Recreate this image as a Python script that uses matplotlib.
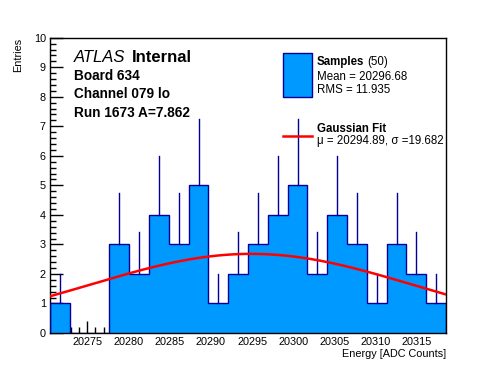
import numpy as np
import matplotlib
matplotlib.use("Agg")
import matplotlib.pyplot as plt
from matplotlib.ticker import MultipleLocator
from matplotlib.patches import Rectangle
from matplotlib.lines import Line2D

plt.rcParams['font.family'] = ['Liberation Sans', 'DejaVu Sans']

#%% data
x_min = 20270.5
x_max = 20318.5
counts = [1, 0, 0, 3, 2, 4, 3, 5, 1, 2, 3, 4, 5, 2, 4, 3, 1, 3, 2, 1]
fit_mu = 20294.89
fit_sigma = 19.682
fit_const = 2.68
n_samples = 50
mean_val = 20296.68
rms_val = 11.935
labels = ["Board 634", "Channel 079 lo", "Run 1673 A=7.862"]

edges = np.linspace(x_min, x_max, len(counts) + 1)
centers = 0.5 * (edges[:-1] + edges[1:])
counts = np.array(counts, dtype=float)

fill_col = '#0099ff'
edge_col = '#000099'

#%% figure
fig = plt.figure(figsize=(4.96, 3.72), dpi=100)
ax = fig.add_axes([50/496, 1 - 333/372, 396/496, (333 - 37.7)/372])

ax.stairs(counts, edges, fill=True, color=fill_col, zorder=2)
ax.stairs(counts, edges, color=edge_col, lw=1.0, zorder=3)

# upper error bars
for c, n in zip(centers, counts):
    if n > 0:
        ax.plot([c, c], [n, n + np.sqrt(n)], color=edge_col, lw=1.0, zorder=3)

# gaussian fit
xf = np.linspace(x_min, x_max, 200)
yf = fit_const * np.exp(-0.5 * ((xf - fit_mu) / fit_sigma) ** 2)
ax.plot(xf, yf, color='red', lw=1.8, zorder=4)

ax.set_xlim(x_min, x_max)
ax.set_ylim(0, 10)
ax.xaxis.set_major_locator(MultipleLocator(5))
ax.xaxis.set_minor_locator(MultipleLocator(1))
ax.yaxis.set_major_locator(MultipleLocator(1))
ax.yaxis.set_minor_locator(MultipleLocator(0.2))
ax.tick_params(which='both', direction='in', top=False, right=False, labelsize=7.8, pad=3)
ax.tick_params(which='major', length=9, width=1)
ax.tick_params(which='minor', length=4.5, width=1)
for s in ax.spines.values():
    s.set_linewidth(1.0)
ax.ticklabel_format(useOffset=False)

fig.text(446/496, 1 - 354/372, "Energy [ADC Counts]", ha='right', va='center', fontsize=7.8)
fig.text(18/496, 1 - 38/372, "Entries", ha='center', va='top', rotation=90, fontsize=7.8)

# ATLAS block
fig.text(74/496, 1 - 57/372, "ATLAS", style='italic', fontsize=12, va='center', ha='left')
fig.text(132/496, 1 - 57/372, "Internal", fontweight='bold', fontsize=12, va='center', ha='left')
ys = [76, 94, 113]
for lab, yy in zip(labels, ys):
    fig.text(74/496, 1 - yy/372, lab, fontweight='bold', fontsize=9.8, va='center', ha='left')

# legend
fig.patches.append(Rectangle((283/496, 1 - 97/372), 29/496, 44/372, transform=fig.transFigure,
                             facecolor=fill_col, edgecolor=edge_col, lw=1.0))
fig.text(317/496, 1 - 62/372, "Samples", fontweight='bold', fontsize=8.3, va='center')
fig.text(367/496, 1 - 62/372, "(%d)" % n_samples, fontsize=8.3, va='center')
fig.text(317/496, 1 - 77/372, "Mean = %.2f" % mean_val, fontsize=8.3, va='center')
fig.text(317/496, 1 - 90/372, "RMS = %.3f" % rms_val, fontsize=8.3, va='center')

fig.lines.append(Line2D([283/496, 312/496], [1 - 136/372, 1 - 136/372], transform=fig.transFigure,
                        color='red', lw=1.8))
fig.text(317/496, 1 - 129/372, "Gaussian Fit", fontweight='bold', fontsize=8.3, va='center')
fig.text(317/496, 1 - 141/372, "\u03bc = %.2f, \u03c3 =%.3f" % (fit_mu, fit_sigma), fontsize=8.3, va='center')

fig.savefig("out.png", dpi=100)
